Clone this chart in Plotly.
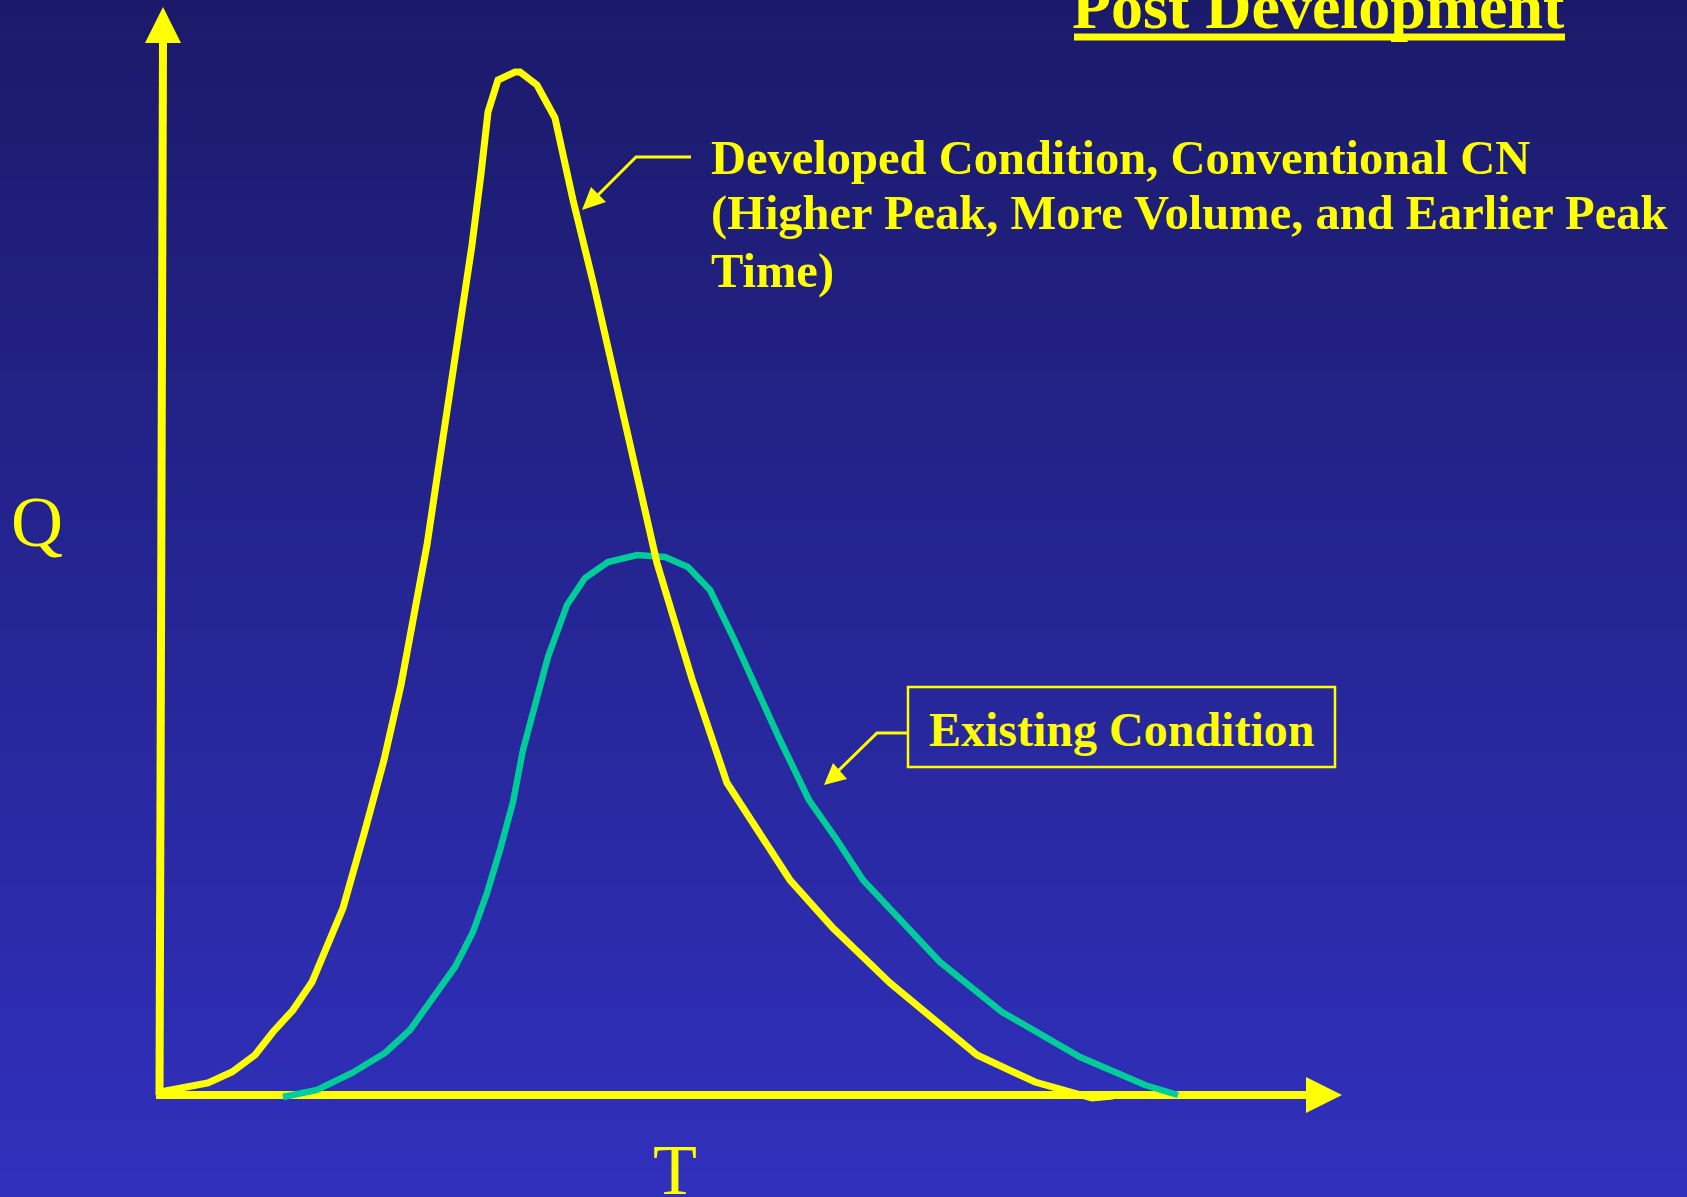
import base64
import struct
import zlib

import plotly.graph_objects as go

# ---------------- data (T, Q in arbitrary units) ----------------
developed_T = [0.0, 4.8, 7.2, 9.5, 11.3, 13.3, 15.2, 16.5, 18.3, 20.4, 22.4, 24.1, 25.4, 26.7,
               27.8, 29.0, 30.0, 31.2, 32.1, 32.8, 33.8, 35.5, 36.0, 37.7, 39.5, 41.3, 43.4,
               45.4, 47.5, 49.7, 53.2, 56.7, 63.0, 67.3, 73.0, 81.7, 87.5, 93.2, 95.3]
developed_Q = [0.3, 1.2, 2.3, 4.0, 6.3, 8.5, 11.3, 14.5, 18.7, 26.1, 33.5, 41.0, 48.1, 55.0,
               62.4, 70.2, 77.4, 85.0, 92.1, 98.3, 101.5, 102.3, 102.3, 101.0, 97.7, 89.5, 80.9,
               72.2, 63.2, 53.2, 41.6, 31.2, 21.5, 16.7, 11.2, 4.0, 1.3, -0.3, -0.1]

existing_T = [12.3, 15.7, 19.2, 22.5, 25.0, 27.7, 29.5, 31.3, 32.7, 34.0, 35.3, 36.3, 37.6,
              38.8, 40.7, 42.5, 44.8, 47.7, 50.5, 52.8, 55.0, 57.3, 62.0, 64.9, 67.7, 70.3,
              78.0, 84.2, 92.0, 98.5, 101.8]
existing_Q = [-0.2, 0.5, 2.2, 4.2, 6.5, 10.2, 12.8, 16.3, 20.2, 24.5, 29.3, 34.5, 39.4,
              43.8, 49.0, 51.7, 53.3, 54.0, 53.8, 52.8, 50.5, 45.8, 35.5, 29.5, 25.5, 21.5,
              13.3, 8.3, 3.8, 1.0, 0.0]

title_text = "Post Development"
developed_label = ["Developed Condition, Conventional CN",
                   "(Higher Peak, More Volume, and Earlier Peak",
                   "Time)"]
existing_label = "Existing Condition"
x_label = "T"
y_label = "Q"

# ---------------- layout helpers ----------------
W, H = 1687, 1197
YELLOW = "#ffff00"
GREEN = "#00cc99"
SERIF = "Liberation Serif, Times New Roman, serif"


def px(x):
    return x / W


def py(y):
    return 1 - y / H


def gradient_png(h, top, bot):
    rows = b""
    for i in range(h):
        t = i / (h - 1)
        c = bytes(int(round(top[k] + (bot[k] - top[k]) * t)) for k in range(3))
        rows += b"\x00" + c + c
    def chunk(tag, data):
        return (struct.pack(">I", len(data)) + tag + data
                + struct.pack(">I", zlib.crc32(tag + data) & 0xffffffff))
    png = b"\x89PNG\r\n\x1a\n"
    png += chunk(b"IHDR", struct.pack(">IIBBBBB", 2, h, 8, 2, 0, 0, 0))
    png += chunk(b"IDAT", zlib.compress(rows, 9))
    png += chunk(b"IEND", b"")
    return "data:image/png;base64," + base64.b64encode(png).decode()


fig = go.Figure()

fig.add_trace(go.Scatter(x=existing_T, y=existing_Q, mode="lines",
                         line=dict(color=GREEN, width=6.5), hoverinfo="skip"))
fig.add_trace(go.Scatter(x=developed_T, y=developed_Q, mode="lines",
                         line=dict(color=YELLOW, width=7), hoverinfo="skip"))

shapes = []
# axes (shafts + arrowheads)
shapes.append(dict(type="line", xref="paper", yref="paper", x0=px(159.5), y0=py(1095),
                   x1=px(163), y1=py(40), line=dict(color=YELLOW, width=8), layer="below"))
shapes.append(dict(type="path", xref="paper", yref="paper",
                   path=f"M {px(163)} {py(7)} L {px(145)} {py(43)} L {px(181)} {py(43)} Z",
                   fillcolor=YELLOW, line=dict(width=0), layer="below"))
shapes.append(dict(type="line", xref="paper", yref="paper", x0=px(156), y0=py(1095),
                   x1=px(1310), y1=py(1095), line=dict(color=YELLOW, width=8), layer="below"))
shapes.append(dict(type="path", xref="paper", yref="paper",
                   path=f"M {px(1342)} {py(1095)} L {px(1306)} {py(1077)} L {px(1306)} {py(1113)} Z",
                   fillcolor=YELLOW, line=dict(width=0), layer="below"))
# title underline
shapes.append(dict(type="line", xref="paper", yref="paper", x0=px(1074), y0=py(37),
                   x1=px(1565), y1=py(37), line=dict(color=YELLOW, width=7)))
# leader for developed label
shapes.append(dict(type="path", xref="paper", yref="paper",
                   path=f"M {px(691)} {py(157)} L {px(636)} {py(157)} L {px(594)} {py(199)}",
                   line=dict(color=YELLOW, width=3)))
shapes.append(dict(type="path", xref="paper", yref="paper",
                   path=f"M {px(582)} {py(210)} L {px(591)} {py(187)} L {px(606)} {py(202)} Z",
                   fillcolor=YELLOW, line=dict(width=0)))
# leader for existing label
shapes.append(dict(type="path", xref="paper", yref="paper",
                   path=f"M {px(908)} {py(733)} L {px(877)} {py(733)} L {px(836)} {py(773)}",
                   line=dict(color=YELLOW, width=3)))
shapes.append(dict(type="path", xref="paper", yref="paper",
                   path=f"M {px(824)} {py(785)} L {px(833)} {py(763)} L {px(847)} {py(779)} Z",
                   fillcolor=YELLOW, line=dict(width=0)))
# box around existing label
shapes.append(dict(type="rect", xref="paper", yref="paper", x0=px(908), y0=py(767),
                   x1=px(1335), y1=py(687), line=dict(color=YELLOW, width=2.5)))

annotations = []
annotations.append(dict(text=f"<b>{title_text}</b>", xref="paper", yref="paper",
                        x=px(1070), y=py(6), xanchor="left", yanchor="middle",
                        showarrow=False, font=dict(family=SERIF, size=64, color=YELLOW)))
for line_text, yc in zip(developed_label, [157, 213, 271]):
    annotations.append(dict(text=f"<b>{line_text}</b>", xref="paper", yref="paper",
                            x=px(709), y=py(yc), xanchor="left", yanchor="middle",
                            showarrow=False, font=dict(family=SERIF, size=48.5, color=YELLOW)))
annotations.append(dict(text=f"<b>{existing_label}</b>", xref="paper", yref="paper",
                        x=px(1121.5), y=py(729), xanchor="center", yanchor="middle",
                        showarrow=False, font=dict(family=SERIF, size=48, color=YELLOW)))
annotations.append(dict(text=y_label, xref="paper", yref="paper",
                        x=px(37), y=py(522), xanchor="center", yanchor="middle",
                        showarrow=False, font=dict(family=SERIF, size=72, color=YELLOW)))
annotations.append(dict(text=x_label, xref="paper", yref="paper",
                        x=px(675), y=py(1170), xanchor="center", yanchor="middle",
                        showarrow=False, font=dict(family=SERIF, size=72, color=YELLOW)))

fig.update_layout(
    width=W, height=H, autosize=False,
    margin=dict(l=0, r=0, t=0, b=0, pad=0),
    paper_bgcolor="#25258f",
    plot_bgcolor="rgba(0,0,0,0)",
    showlegend=False,
    xaxis=dict(range=[-16.0, 152.7], visible=False, fixedrange=True),
    yaxis=dict(range=[-10.2, 109.5], visible=False, fixedrange=True),
    shapes=shapes,
    annotations=annotations,
    images=[dict(source=gradient_png(256, (27, 26, 106), (48, 48, 190)),
                 xref="paper", yref="paper", x=0, y=1, sizex=1, sizey=1,
                 xanchor="left", yanchor="top", sizing="stretch", layer="below")],
)

fig.write_html("out.html")
